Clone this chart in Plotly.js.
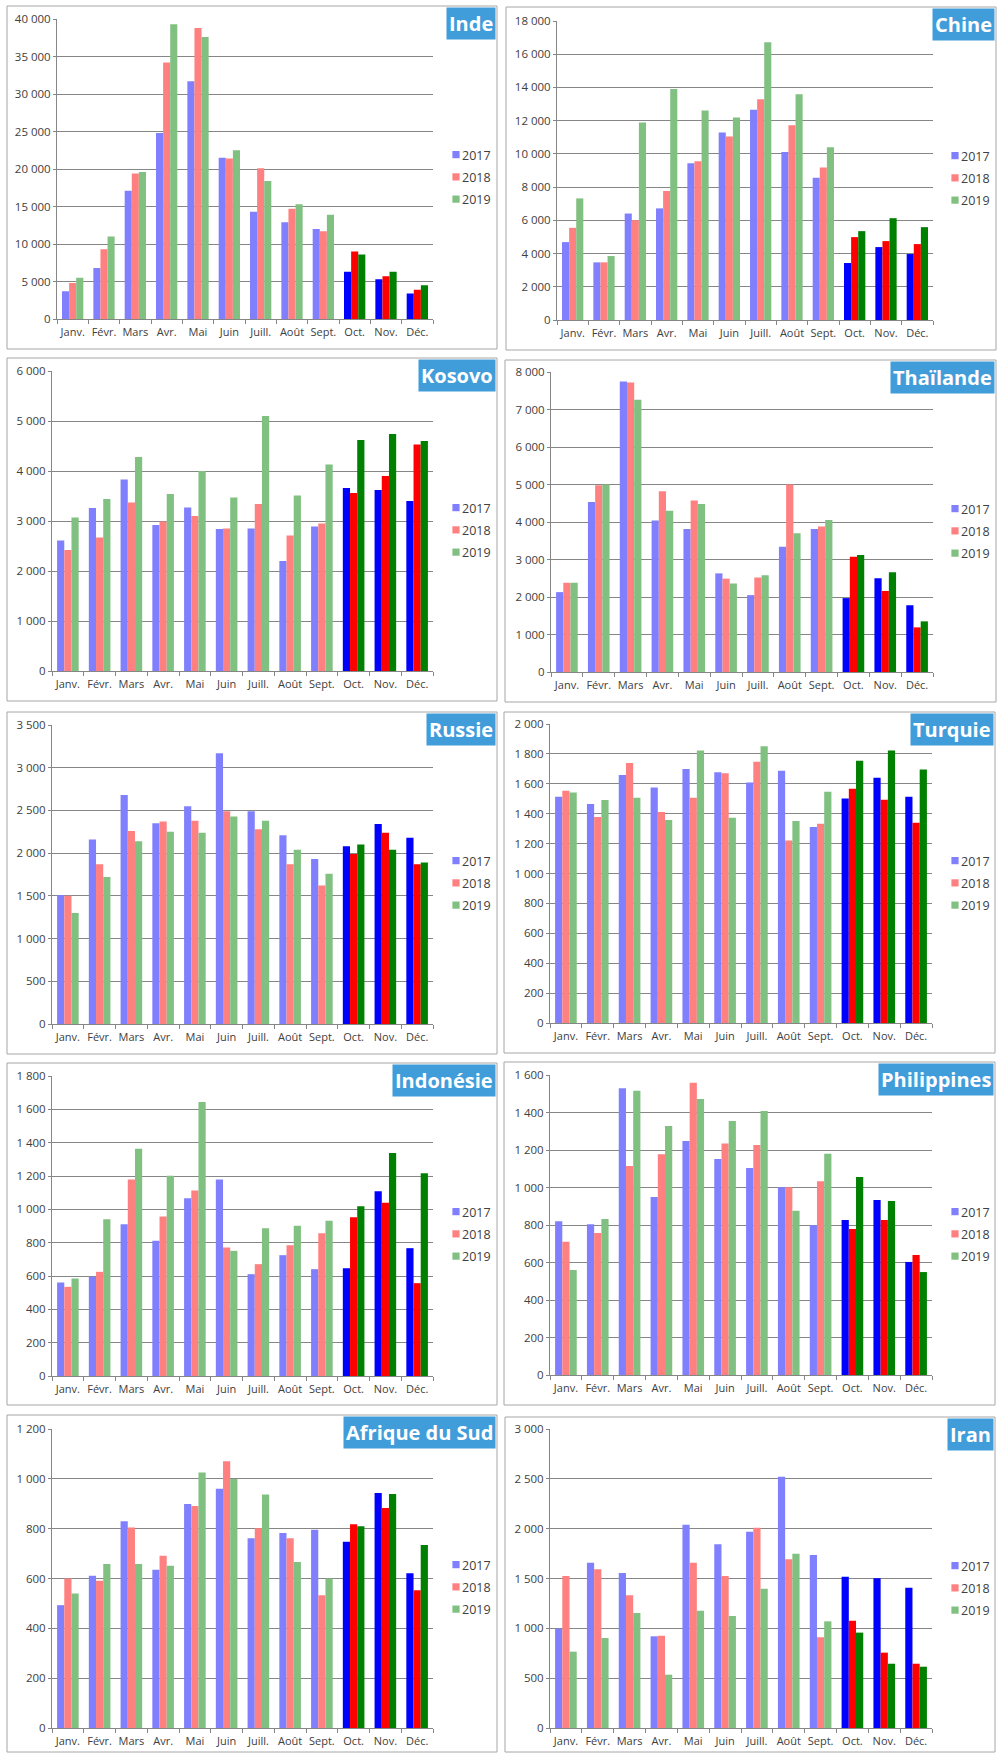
<!DOCTYPE html>
<html><head><meta charset="utf-8">
<script src="https://cdn.plot.ly/plotly-3.0.1.min.js"></script>
<style>
html,body{margin:0;padding:0;background:#fff;}
#chart{width:1000px;height:1753px;}
</style></head><body><div id="chart"></div>
<script>
// ---------- DATA ----------
const months = ["Janv.","Févr.","Mars","Avr.","Mai","Juin","Juill.","Août","Sept.","Oct.","Nov.","Déc."];
const years = ["2017","2018","2019"];
const countries = ["Inde","Chine","Kosovo","Thaïlande","Russie","Turquie","Indonésie","Philippines","Afrique du Sud","Iran"];

const inde2017 = [3700, 6800, 17100, 24800, 31700, 21500, 14300, 12900, 12000, 6300, 5300, 3400];
const inde2018 = [4800, 9300, 19400, 34200, 38800, 21400, 20100, 14700, 11700, 9000, 5700, 3900];
const inde2019 = [5500, 11000, 19600, 39300, 37600, 22500, 18400, 15300, 13900, 8600, 6300, 4500];

const chine2017 = [4690, 3470, 6410, 6720, 9440, 11290, 12650, 10120, 8560, 3430, 4390, 3970];
const chine2018 = [5550, 3470, 6010, 7760, 9560, 11050, 13290, 11730, 9180, 4990, 4750, 4570];
const chine2019 = [7320, 3850, 11890, 13910, 12610, 12190, 16720, 13590, 10400, 5350, 6130, 5590];

const kosovo2017 = [2610, 3260, 3830, 2920, 3270, 2840, 2850, 2200, 2890, 3660, 3620, 3400];
const kosovo2018 = [2420, 2670, 3370, 2990, 3100, 2850, 3340, 2710, 2950, 3560, 3900, 4530];
const kosovo2019 = [3070, 3440, 4280, 3540, 4000, 3470, 5100, 3510, 4130, 4620, 4740, 4600];

const thailande2017 = [2130, 4530, 7750, 4040, 3810, 2630, 2050, 3340, 3810, 1970, 2500, 1780];
const thailande2018 = [2380, 4980, 7720, 4820, 4570, 2490, 2520, 5000, 3880, 3070, 2160, 1190];
const thailande2019 = [2380, 5000, 7260, 4300, 4480, 2360, 2580, 3700, 4050, 3120, 2660, 1350];

const russie2017 = [1510, 2160, 2680, 2350, 2550, 3170, 2490, 2210, 1930, 2080, 2340, 2180];
const russie2018 = [1500, 1870, 2260, 2370, 2380, 2490, 2280, 1870, 1620, 1990, 2240, 1870];
const russie2019 = [1300, 1720, 2140, 2250, 2240, 2430, 2380, 2040, 1760, 2100, 2040, 1890];

const turquie2017 = [1514, 1465, 1659, 1576, 1699, 1677, 1608, 1688, 1311, 1501, 1641, 1514];
const turquie2018 = [1554, 1378, 1739, 1411, 1507, 1670, 1748, 1220, 1333, 1567, 1494, 1340];
const turquie2019 = [1541, 1492, 1507, 1358, 1822, 1373, 1851, 1351, 1547, 1755, 1822, 1695];

const indonesie2017 = [561, 595, 911, 811, 1067, 1179, 611, 725, 641, 647, 1109, 767];
const indonesie2018 = [535, 625, 1179, 957, 1113, 771, 671, 785, 857, 953, 1039, 557];
const indonesie2019 = [585, 941, 1364, 1201, 1644, 751, 887, 901, 931, 1019, 1338, 1217];

const philippines2017 = [820, 804, 1529, 949, 1248, 1152, 1104, 1001, 798, 827, 933, 603];
const philippines2018 = [711, 757, 1115, 1177, 1559, 1234, 1227, 1001, 1033, 779, 827, 640];
const philippines2019 = [560, 832, 1516, 1328, 1472, 1355, 1408, 876, 1180, 1056, 928, 549];

const afrique2017 = [493, 611, 830, 635, 899, 960, 762, 783, 796, 747, 943, 621];
const afrique2018 = [600, 591, 805, 691, 891, 1071, 802, 762, 533, 818, 883, 553];
const afrique2019 = [540, 658, 658, 651, 1025, 999, 937, 666, 600, 810, 939, 734];

const iran2017 = [997, 1659, 1555, 920, 2040, 1843, 1970, 2522, 1736, 1518, 1502, 1408];
const iran2018 = [1525, 1592, 1331, 926, 1659, 1525, 2010, 1692, 910, 1077, 756, 645];
const iran2019 = [766, 903, 1154, 535, 1177, 1124, 1398, 1749, 1070, 957, 645, 615];

const seriesByCountry = [
  [inde2017, inde2018, inde2019],
  [chine2017, chine2018, chine2019],
  [kosovo2017, kosovo2018, kosovo2019],
  [thailande2017, thailande2018, thailande2019],
  [russie2017, russie2018, russie2019],
  [turquie2017, turquie2018, turquie2019],
  [indonesie2017, indonesie2018, indonesie2019],
  [philippines2017, philippines2018, philippines2019],
  [afrique2017, afrique2018, afrique2019],
  [iran2017, iran2018, iran2019]
];

// ---------- STYLE / GEOMETRY ----------
const W = 1000, H = 1753;
const lightColors = ["#8080ff", "#ff8080", "#80c080"];
const darkColors  = ["#0000ff", "#ff0000", "#008000"];
const firstHighlighted = 9;
const FONT = "Open Sans, Noto Sans, sans-serif";
const TXT = "#404040";
const GRID = "#868686";

// per panel: axis max & step, border box [l,t,r,b], plot box [l,t,r,b], legend middle y
const geo = [
  {ymax:40000, dtick:5000, box:[7,6,497,349],    plot:[57,19,433,319],    leg:177},
  {ymax:18000, dtick:2000, box:[506,7,996,350],  plot:[557,21,933,320],   leg:178},
  {ymax:6000,  dtick:1000, box:[7,358,497,701],  plot:[52,371,433,671],   leg:530},
  {ymax:8000,  dtick:1000, box:[505,360,996,702],plot:[551,372,933,672],  leg:531},
  {ymax:3500,  dtick:500,  box:[7,712,497,1054], plot:[52,725,433,1024],  leg:883},
  {ymax:2000,  dtick:200,  box:[504,712,995,1053],plot:[550,724,932,1023],leg:883},
  {ymax:1800,  dtick:200,  box:[7,1063,497,1405],plot:[52,1076,433,1376], leg:1234},
  {ymax:1600,  dtick:200,  box:[504,1062,995,1405],plot:[550,1075,932,1375],leg:1234},
  {ymax:1200,  dtick:200,  box:[7,1415,497,1752],plot:[52,1429,433,1728], leg:1587},
  {ymax:3000,  dtick:500,  box:[505,1417,995,1752],plot:[550,1429,932,1728],leg:1588}
];

const px = v => v / W;
const py = v => 1 - v / H;

const traces = [];
const layout = {
  width: W, height: H,
  margin: {l:0, r:0, t:0, b:0},
  paper_bgcolor: "#fff", plot_bgcolor: "#fff",
  barmode: "group", bargap: 0.32, bargroupgap: 0,
  separators: ", ",
  font: {family: FONT, color: TXT, size: 11},
  showlegend: true,
  shapes: [], annotations: []
};

countries.forEach((name, i) => {
  const g = geo[i];
  const n = i === 0 ? "" : String(i + 1);
  const xId = "x" + n, yId = "y" + n;
  const legId = "legend" + n;
  const series = seriesByCountry[i];
  series.forEach((vals, k) => {
    traces.push({
      type: "bar", x: months, y: vals, name: years[k],
      xaxis: xId, yaxis: yId, legend: legId, legendgroup: "p" + i + "s" + k,
      marker: {color: months.map((m, j) => j >= firstHighlighted ? darkColors[k] : lightColors[k]), line: {width: 0}},
      hoverinfo: "x+y+name"
    });
  });
  layout["xaxis" + n] = {
    domain: [px(g.plot[0]), px(g.plot[2])], anchor: yId,
    type: "category", range: [-0.5, 11.5], tickson: "boundaries",
    ticks: "outside", ticklen: 4, tickcolor: GRID, tickwidth: 1, tickangle: 0,
    ticklabelstandoff: 3,
    showline: true, linecolor: GRID, linewidth: 1, showgrid: false, zeroline: false,
    tickfont: {family: FONT, size: 11, color: TXT}, fixedrange: true
  };
  layout["yaxis" + n] = {
    domain: [py(g.plot[3]), py(g.plot[1])], anchor: xId,
    range: [0, g.ymax], tick0: 0, dtick: g.dtick,
    showgrid: true, gridcolor: GRID, gridwidth: 1, zeroline: false,
    showline: true, linecolor: GRID, linewidth: 1,
    ticks: "outside", ticklen: 3, tickcolor: GRID,
    separatethousands: true, exponentformat: "none",
    tickfont: {family: FONT, size: 11.5, color: TXT}, fixedrange: true
  };
  const legLeft = (g.plot[2] > 500) ? 921 : 422;
  layout[legId] = {
    x: px(legLeft), xanchor: "left", y: py(g.leg), yanchor: "middle",
    bgcolor: "rgba(0,0,0,0)", borderwidth: 0,
    font: {family: FONT, size: 12.5, color: TXT},
    traceorder: "grouped", tracegroupgap: 3
  };
  layout.shapes.push({
    type: "rect", xref: "paper", yref: "paper",
    x0: px(g.box[0]), x1: px(g.box[2]), y0: py(g.box[3]), y1: py(g.box[1]),
    line: {color: "#a6a6a6", width: 1}, fillcolor: "rgba(0,0,0,0)"
  });
  layout.annotations.push({
    text: "<b>" + name + "</b>", xref: "paper", yref: "paper",
    x: px(g.box[2] - 1), y: py(g.box[1] + 1), xanchor: "right", yanchor: "top",
    showarrow: false, bgcolor: "#419dda", borderpad: 2,
    font: {family: FONT, size: 20, color: "#ffffff"}
  });
});

Plotly.newPlot("chart", traces, layout, {displayModeBar: false, responsive: false}).then(gd => {
  // smaller legend swatches placed close to their labels, as in the reference
  gd.querySelectorAll(".legendpoints path").forEach(p => {
    p.setAttribute("transform", "translate(34,0) scale(0.6)");
  });
});
</script>
</body></html>
